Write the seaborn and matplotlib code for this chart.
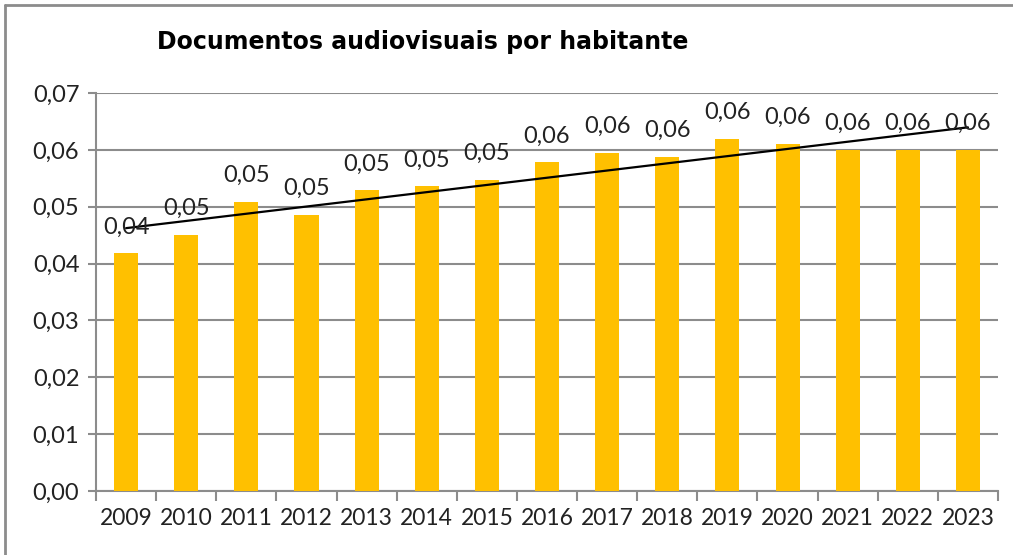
import numpy as np
import pandas as pd
import matplotlib
matplotlib.use("Agg")
import matplotlib.pyplot as plt
from matplotlib.lines import Line2D
import seaborn as sns

years = ['2009', '2010', '2011', '2012', '2013', '2014', '2015', '2016',
         '2017', '2018', '2019', '2020', '2021', '2022', '2023']
values = [0.0418, 0.0451, 0.0508, 0.0486, 0.0529, 0.0536, 0.0547, 0.0578,
          0.0595, 0.0588, 0.0619, 0.0610, 0.0600, 0.0600, 0.0600]
title = 'Documentos audiovisuais por habitante'

df = pd.DataFrame({'year': years, 'value': values})

sns.set_style('white')
plt.rcParams['font.family'] = ['Lato', 'DejaVu Sans']

grey = '#8c8c8c'
fig = plt.figure(figsize=(10.13, 5.55), dpi=100)
ax = fig.add_axes([0.0948, 0.1153, 0.8904, 0.7171])

sns.barplot(data=df, x='year', y='value', color='#FFC000', width=0.4,
            saturation=1, linewidth=0, ax=ax, zorder=3)

# linear trend line
xs = np.arange(len(values))
k, b = np.polyfit(xs, values, 1)
ax.plot(xs, k * xs + b, color='black', lw=1.6, zorder=4)

for i, v in enumerate(values):
    ax.annotate(f'{v:.2f}'.replace('.', ','), (i, v), xytext=(0, 19),
                textcoords='offset points', ha='center', va='center',
                fontsize=17, color='#222222', zorder=5)

ax.set_xlim(-0.5, len(years) - 0.5)
ax.set_ylim(0, 0.07)
yt = np.arange(0, 0.0701, 0.01)
ax.set_yticks(yt)
ax.set_yticklabels([f'{t:.2f}'.replace('.', ',') for t in yt])
ax.yaxis.grid(True, color=grey, lw=1.5, zorder=0)
ax.set_xlabel('')
ax.set_ylabel('')

ax.set_xticks(np.arange(-0.5, len(years), 1), minor=True)
ax.tick_params(axis='x', which='major', length=0, pad=12, labelsize=16.5,
               labelcolor='#222222')
ax.tick_params(axis='x', which='minor', length=7, width=1.5, color=grey,
               direction='out', bottom=True)
ax.tick_params(axis='y', length=6, width=1.5, color=grey, direction='out',
               left=True, labelsize=17, labelcolor='#222222', pad=6)

for s in ['top', 'right']:
    ax.spines[s].set_visible(False)
for s in ['left', 'bottom']:
    ax.spines[s].set_color(grey)
    ax.spines[s].set_linewidth(1.5)

fig.text(157 / 1013, 1 - 42 / 555, title, fontsize=17, fontweight='bold',
         family='DejaVu Sans', ha='left', va='center', color='black')

# outer chart frame
fig.add_artist(Line2D([5 / 1013, 1.0], [1 - 5 / 555, 1 - 5 / 555],
                      transform=fig.transFigure, color=grey, lw=2))
fig.add_artist(Line2D([5 / 1013, 5 / 1013], [0, 1 - 5 / 555],
                      transform=fig.transFigure, color=grey, lw=2))

fig.savefig('out.png', dpi=100)
